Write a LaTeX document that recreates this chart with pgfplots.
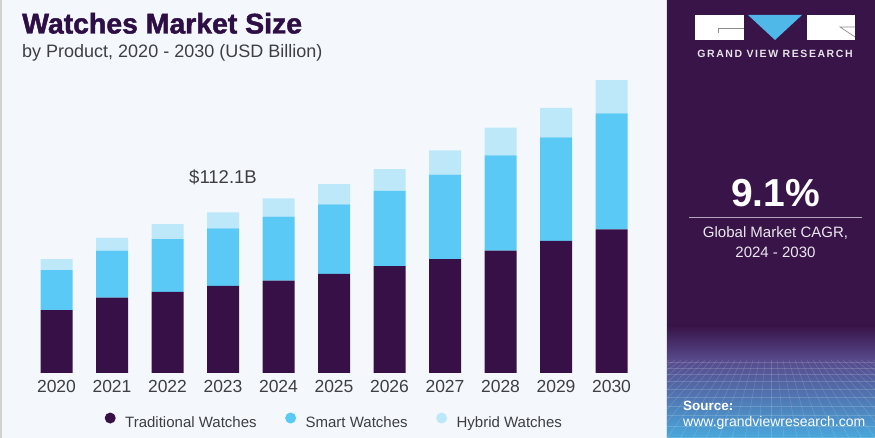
\documentclass[border=0pt]{standalone}
\usepackage{pgfplots}
\pgfplotsset{compat=1.18}
\usepackage{fontspec}
\setmainfont{Liberation Sans}
\newfontfamily\heavyfont{Liberation Sans Bold}[FakeBold=1.6]
\newfontfamily\boldfont{Liberation Sans Bold}
\newfontfamily\logofont{Liberation Sans Bold}[LetterSpace=15]

\definecolor{bgcol}{HTML}{F4F8FC}
\definecolor{panel}{HTML}{381449}
\definecolor{titlecol}{HTML}{2E0F45}
\definecolor{textcol}{HTML}{3E3E44}
\definecolor{trad}{HTML}{371048}
\definecolor{smart}{HTML}{5BC9F5}
\definecolor{hybrid}{HTML}{BDE8FA}
\definecolor{logoblue}{HTML}{4FB8E8}
\definecolor{gradmid}{HTML}{574A8C}
\definecolor{gradlow}{HTML}{49A8DC}

% Market size by product, USD billion
\pgfplotstableread{
year trad  smart hybrid
0    43.9  27.9  7.7
1    52.5  32.8  8.9
2    56.5  36.8  10.5
3    60.7  40.2  11.2
4    64.4  44.6  12.8
5    69.1  48.6  14.0
6    74.6  52.5  15.1
7    79.5  58.8  17.0
8    85.3  66.5  19.3
9    92.1  72.3  20.6
10   100.2 80.9  23.2
}\sizes

\begin{document}
\begin{tikzpicture}[x=1pt,y=1pt]
\useasboundingbox (0,0) rectangle (875,438);
% page background and left rule
\fill[bgcol] (0,0) rectangle (875,438);
\fill[black!18] (0,0) rectangle (1.5,438);

% right-hand panel
\fill[panel] (667,0) rectangle (875,438);
\shade[top color=panel, bottom color=gradmid] (667,78) rectangle (875,112);
\shade[top color=gradmid, bottom color=gradlow] (667,0) rectangle (875,78);
\begin{scope}
  \clip (667,0) rectangle (875,78);
  \foreach \k in {-40,...,40}
    \draw[white, opacity=0.16, line width=0.5pt] (771+\k*6,78) -- (771+\k*13,0);
  \foreach \yy in {76,70,63.5,56.5,49,41,32,22.5,12,1}
    \draw[white, opacity=0.16, line width=0.5pt] (667,\yy) -- (875,\yy);
\end{scope}
\fill[black!12] (665.5,0) rectangle (667,438);

% logo
\fill[white] (695,398) rectangle (744,423);
\draw[black!45, line width=0.7pt] (718,405) -- (718,409.5) -- (744,409.5);
\fill[logoblue] (748,423) -- (802,423) -- (775,398) -- cycle;
\fill[white] (807,398) rectangle (855,423);
\draw[black!45, line width=0.7pt] (855,411) -- (840,411) -- (855,401);
\node[anchor=base, text=white!88!panel, font=\logofont\fontsize{10.5}{12}\selectfont, inner sep=0pt] at (775,380.7) {GRAND VIEW RESEARCH};

% CAGR block
\node[anchor=base, text=white, font=\boldfont\fontsize{39}{40}\selectfont, inner sep=0pt] at (775.5,231) {9.1\%};
\draw[white!62!panel, line width=1.3pt] (689,220.7) -- (862,220.7);
\node[anchor=base, text=white!90!panel, font=\fontsize{15}{17}\selectfont, inner sep=0pt] at (775.5,200.7) {Global Market CAGR,};
\node[anchor=base, text=white!90!panel, font=\fontsize{15}{17}\selectfont, inner sep=0pt] at (775.5,180.7) {2024 - 2030};

% source
\node[anchor=base west, text=white, font=\boldfont\fontsize{13.5}{15}\selectfont, inner sep=0pt] at (683,27.3) {Source:};
\node[anchor=base west, text=white, font=\fontsize{14}{16}\selectfont, inner sep=0pt] at (683,11.3) {www.grandviewresearch.com};

% titles
\node[anchor=base west, text=titlecol, font=\heavyfont\fontsize{28.4}{30}\selectfont, inner sep=0pt] at (22,404.5) {Watches Market Size};
\node[anchor=base west, text=textcol, font=\fontsize{18}{20}\selectfont, inner sep=0pt] at (22,380.7) {by Product, 2020 - 2030 (USD Billion)};

\begin{axis}[
  at={(28.75pt,65pt)}, anchor=south west,
  scale only axis, width=610.5pt, height=315.4pt,
  xmin=-0.5, xmax=10.5, ymin=0, ymax=220,
  ybar stacked, bar width=32pt,
  axis line style={draw=none}, major tick length=0pt,
  ytick=\empty,
  xtick={0,1,2,3,4,5,6,7,8,9,10},
  xticklabels={2020,2021,2022,2023,2024,2025,2026,2027,2028,2029,2030},
  xticklabel style={font=\fontsize{17.5}{18}\selectfont, text=textcol, anchor=north, inner sep=0pt, yshift=-7pt},
  /pgf/number format/assume math mode=true,
  clip=false,
  legend columns=3,
  legend image code/.code={\fill[#1] (5.5pt,4.6pt) circle (5.5pt);},
  legend style={at={(0.1241,-0.1512)}, anchor=west, draw=none, fill=none,
    inner sep=0pt, font=\fontsize{15}{17}\selectfont, text=textcol,
    nodes={inner sep=0pt},
    /tikz/every odd column/.style={column sep=9.5pt},
    /tikz/every even column/.style={column sep=28.5pt}},
]
\addplot[fill=trad, draw=none] table[x=year, y=trad] {\sizes};
\addlegendentry{Traditional Watches}
\addplot[fill=smart, draw=none] table[x=year, y=smart] {\sizes};
\addlegendentry{Smart Watches}
\addplot[fill=hybrid, draw=none] table[x=year, y=hybrid] {\sizes};
\addlegendentry{Hybrid Watches}
\node[anchor=south, text=textcol, font=\fontsize{18.5}{20}\selectfont, inner sep=0pt] at (axis cs:3,131.2) {\$112.1B};
\end{axis}
\end{tikzpicture}
\end{document}
